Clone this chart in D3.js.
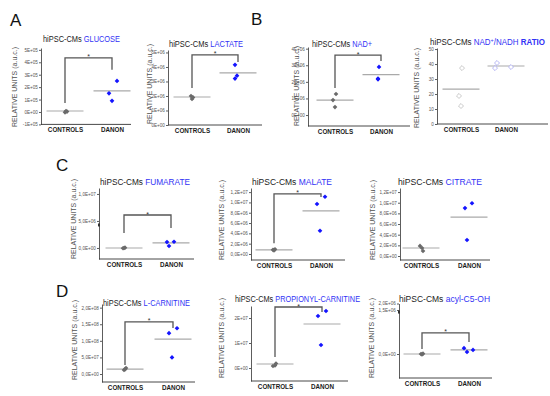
<!DOCTYPE html>
<html lang="en">
<head>
<meta charset="UTF-8">
<title>hiPSC-CMs metabolites</title>
<script src="https://d3js.org/d3.v7.min.js"></script>
<style>
  body { margin: 0; background: #fff; }
  svg { display: block; font-family: "Liberation Sans", Arial, sans-serif; }
  .yaxis text { font-size: 4.6px; fill: #555; font-family: "Liberation Sans", Arial, sans-serif; }
  .yaxis line, .yaxis path { stroke: #333; stroke-width: 0.8; }
  .xaxis text { font-size: 6.3px; font-weight: bold; fill: #1a1a1a; font-family: "Liberation Sans", Arial, sans-serif; }
  .ylab { font-size: 7px; fill: #505050; }
  .title { fill: #222; }
  .blue { fill: #3232f5; }
  .letter { font-size: 17px; fill: #111; }
  .star { font-size: 7px; fill: #333; }
</style>
</head>
<body>
<div id="chart"></div>
<script>
// categories
var categories = ["CONTROLS", "DANON"];

// A - glucose
var glucoseControls = [-0.03e5, 0.03e5, 0.08e5];
var glucoseDanon = [2.5e5, 1.5e5, 0.9e5];
var glucoseMeans = [0.08e5, 1.7e5];
var glucoseTicks = [-1e5, 0, 1e5, 2e5, 3e5, 4e5, 5e5];
var glucoseTickLabels = ["-1E+05", "0E+00", "1E+05", "2E+05", "3E+05", "4E+05", "5E+05"];

// A - lactate
var lactateControls = [2.0e6, 1.9e6, 1.8e6];
var lactateDanon = [4.15e6, 3.4e6, 3.2e6];
var lactateMeans = [1.93e6, 3.6e6];
var lactateTicks = [0, 1e6, 2e6, 3e6, 4e6, 5e6];
var lactateTickLabels = ["0E+00", "1E+06", "2E+06", "3E+06", "4E+06", "5E+06"];

// B - NAD+
var nadControls = [1.27e6, 0.9e6, 0.48e6];
var nadDanon = [2.9e6, 2.2e6, 2.15e6];
var nadMeans = [0.9e6, 2.43e6];
var nadTicks = [0, 1e6, 2e6, 3e6, 4e6];
var nadTickLabels = ["0E+00", "1E+06", "2E+06", "3E+06", "4E+06"];

// B - NAD+/NADH ratio
var ratioControls = [37.3, 18.7, 12];
var ratioDanon = [37.3, 40.7, 38];
var ratioMeans = [23.3, 38.7];
var ratioTicks = [0, 10, 20, 30, 40, 50];
var ratioTickLabels = ["0", "10", "20", "30", "40", "50"];

// C - fumarate
var fumarateControls = [0, 0.05e6, -0.05e6];
var fumarateDanon = [1.1e6, 0.37e6, 1.15e6];
var fumarateMeans = [0, 0.93e6];
var fumarateTicks = [0, 5e6, 1e7];
var fumarateTickLabels = ["0,0E+00", "5,0E+06", "1,0E+07"];

// C - malate
var malateControls = [0.8e6, 0.9e6, 0.7e6];
var malateDanon = [11.1e6, 9.7e6, 4.5e6];
var malateMeans = [0.8e6, 8.35e6];
var malateTicks = [0, 2e6, 4e6, 6e6, 8e6, 1e7, 1.2e7];
var malateTickLabels = ["0,0E+00", "2,0E+06", "4,0E+06", "6,0E+06", "8,0E+06", "1,0E+07", "1,2E+07"];

// C - citrate
var citrateControls = [1.9e6, 1.5e6, 0.94e6];
var citrateDanon = [9.9e6, 9.0e6, 3.0e6];
var citrateMeans = [1.5e6, 7.3e6];
var citrateTicks = [0, 2e6, 4e6, 6e6, 8e6, 1e7, 1.2e7];
var citrateTickLabels = ["0,0E+00", "2,0E+06", "4,0E+06", "6,0E+06", "8,0E+06", "1,0E+07", "1,2E+07"];

// D - L-carnitine
var lcarnControls = [1.8e7, 1.2e7, 1.4e7];
var lcarnDanon = [1.38e8, 1.23e8, 0.5e8];
var lcarnMeans = [1.5e7, 1.05e8];
var lcarnTicks = [0, 5e7, 1e8, 1.5e8, 2e8];
var lcarnTickLabels = ["0,0E+00", "5,0E+07", "1,0E+08", "1,5E+08", "2,0E+08"];

// D - propionyl-carnitine
var propControls = [0.18e7, 0.1e7, 0.08e7];
var propDanon = [2.28e7, 2.08e7, 0.92e7];
var propMeans = [0.16e7, 1.76e7];
var propTicks = [0, 1e7, 2e7];
var propTickLabels = ["0E+00", "1E+07", "2E+07"];

// D - acyl-C5-OH
var acylControls = [0, 0.01e6, -0.01e6];
var acylDanon = [0.2e6, 0.07e6, 0.14e6];
var acylMeans = [0, 0.14e6];
var acylTicks = [0, 1.5e6, 2e6];
var acylTickLabels = ["0,0E+00", "1,5E+06", "2,0E+06"];

// significance brackets: [start, top, end] in data units
var glucoseBracket = [0.73e5, 4.35e5, 3.39e5];
var lactateBracket = [2.55e6, 4.83e6, 4.34e6];
var nadBracket = [1.63e6, 3.61e6, 3.25e6];
var fumarateBracket = [2.78e6, 6.1e6, 3.7e6];
var malateBracket = [2.1e6, 11.65e6, 11.07e6];
var lcarnBracket = [2.7e7, 1.57e8, 1.39e8];
var propBracket = [0.44e7, 2.44e7, 2.24e7];
var acylBracket = [0.17e6, 0.72e6, 0.41e6];

var panels = [
    {title: [["GLUCOSE"]], controls: glucoseControls, danon: glucoseDanon, means: glucoseMeans,
     ticks: glucoseTicks, labels: glucoseTickLabels, bracket: glucoseBracket,
     lay: {ax: 41, axEnd: 131, cx: [65, 112], domain: [-1e5, 5.15e5], range: [124.4, 48],
           tx: 43, ty: 41.5, tw: 77, lx: 15, ly: 87, jc: [0, 2, 1], jd: [5, -3, 0]}},
    {title: [["LACTATE"]], controls: lactateControls, danon: lactateDanon, means: lactateMeans,
     ticks: lactateTicks, labels: lactateTickLabels, bracket: lactateBracket,
     lay: {ax: 168, axEnd: 262, cx: [192, 238], domain: [0, 5.17e6], range: [125, 50],
           tx: 169, ty: 46.5, tw: 74, lx: 150, ly: 84, jc: [-1, 1, 0], jd: [-3, -1, -3]}},
    {title: [["NAD+"]], controls: nadControls, danon: nadDanon, means: nadMeans,
     ticks: nadTicks, labels: nadTickLabels, bracket: nadBracket,
     lay: {ax: 308, axEnd: 410, cx: [335, 381], domain: [-0.66e6, 4.1e6], range: [126, 47],
           tx: 312, ty: 46.5, tw: 60, lx: 297, ly: 86, jc: [1, -2, 0], jd: [-2, -3, -3]}},
    {title: [["NAD"], ["+", "sup"], ["/NADH "], ["RATIO", "bold"]], controls: ratioControls, danon: ratioDanon, means: ratioMeans,
     ticks: ratioTicks, labels: ratioTickLabels, bracket: null, open: true,
     lay: {ax: 437, axEnd: 548, cx: [461, 506], domain: [0, 50.7], range: [124, 48],
           tx: 430, ty: 45, tw: 115, lx: 417, ly: 88, jc: [1, -2, 0], jd: [-11, -9, 5]}},
    {title: [["FUMARATE"]], controls: fumarateControls, danon: fumarateDanon, means: fumarateMeans,
     ticks: fumarateTicks, labels: fumarateTickLabels, bracket: fumarateBracket, mark: 4.26e6,
     lay: {ax: 99, axEnd: 194, cx: [124, 171], domain: [-2.04e6, 11.1e6], range: [259, 188],
           tx: 100, ty: 185, tw: 90, lx: 74, ly: 219, jc: [0, 1, -1], jd: [-4, -2, 3]}},
    {title: [["MALATE"]], controls: malateControls, danon: malateDanon, means: malateMeans,
     ticks: malateTicks, labels: malateTickLabels, bracket: malateBracket,
     lay: {ax: 251, axEnd: 345, cx: [274, 321], domain: [-1.17e6, 12.8e6], range: [260, 188],
           tx: 252, ty: 184.5, tw: 80, lx: 222, ly: 220, jc: [-1, 1, 0], jd: [4, -4, -1]}},
    {title: [["CITRATE"]], controls: citrateControls, danon: citrateDanon, means: citrateMeans,
     ticks: citrateTicks, labels: citrateTickLabels, bracket: null,
     lay: {ax: 400, axEnd: 490, cx: [421, 469], domain: [-0.75e6, 12.76e6], range: [260, 188],
           tx: 398, ty: 184.5, tw: 84, lx: 373, ly: 220, jc: [-1, 1, 2], jd: [3, -4, -2]}},
    {title: [["L-CARNITINE"]], controls: lcarnControls, danon: lcarnDanon, means: lcarnMeans,
     ticks: lcarnTicks, labels: lcarnTickLabels, bracket: lcarnBracket,
     lay: {ax: 102, axEnd: 195, cx: [125, 173], domain: [-2.41e7, 2.11e8], range: [382, 304],
           tx: 103, ty: 306, tw: 87, lx: 75, ly: 340, jc: [1, -1, 0], jd: [4, -4, -1]}},
    {title: [["PROPIONYL-CARNITINE"]], controls: propControls, danon: propDanon, means: propMeans,
     ticks: propTicks, labels: propTickLabels, bracket: propBracket,
     lay: {ax: 251, axEnd: 348, cx: [275, 322], domain: [-0.52e7, 2.48e7], range: [381, 306],
           tx: 235, ty: 301.5, tw: 125, lx: 222, ly: 338, jc: [1, 0, -2], jd: [4, -4, -1]}},
    {title: [["acyl-C5-OH"]], controls: acylControls, danon: acylDanon, means: acylMeans,
     ticks: acylTicks, labels: acylTickLabels, bracket: acylBracket, mark: 1.43e6,
     lay: {ax: 399, axEnd: 492, cx: [422, 469], domain: [-0.55e6, 0, 1.5e6, 2e6], range: [378, 354, 310, 303.5],
           tx: 399, ty: 302, tw: 91, lx: 372, ly: 338, jc: [-1, 1, 0], jd: [-5, -2, 4]}}
];

var letters = [["A", 10, 26], ["B", 251, 25], ["C", 56, 171], ["D", 56, 297]];

var svg = d3.select("#chart").append("svg")
    .attr("width", 550)
    .attr("height", 396);

svg.selectAll(".letter").data(letters).join("text")
    .attr("class", "letter")
    .attr("x", d => d[1]).attr("y", d => d[2])
    .text(d => d[0]);

var diamond = d3.symbol().type(d3.symbolDiamond2 || d3.symbolDiamond).size(14)();
var openDiamond = d3.symbol().type(d3.symbolDiamond2 || d3.symbolDiamond).size(16)();

panels.forEach(function(p) {
    var L = p.lay;
    var g = svg.append("g");
    var y = d3.scaleLinear().domain(L.domain).range(L.range);
    var x = d3.scalePoint().domain(categories).range(L.cx);
    var yBot = L.range[0];

    // y axis
    g.append("g").attr("class", "yaxis")
        .attr("transform", "translate(" + L.ax + ",0)")
        .call(d3.axisLeft(y).tickValues(p.ticks).tickFormat((d, i) => p.labels[i])
            .tickSize(2).tickSizeOuter(0).tickPadding(1.2));

    // x axis
    g.append("line")
        .attr("x1", L.ax).attr("x2", L.axEnd)
        .attr("y1", yBot).attr("y2", yBot)
        .attr("stroke", "#333").attr("stroke-width", 0.9);
    var xa = g.append("g").attr("class", "xaxis")
        .attr("transform", "translate(0," + yBot + ")")
        .call(d3.axisBottom(x).tickSize(0).tickPadding(3.6));
    xa.select(".domain").remove();

    // y label
    g.append("text").attr("class", "ylab")
        .attr("transform", "translate(" + L.lx + "," + L.ly + ") rotate(-90)")
        .attr("text-anchor", "middle")
        .attr("dy", "0.35em")
        .text("RELATIVE UNITS (a.u.c.)");

    // title, squeezed horizontally to the measured width (narrow face)
    var fs = 9.2;
    var t = g.append("text").attr("class", "title")
        .attr("transform", "translate(" + L.tx + "," + L.ty + ")")
        .style("font-size", fs + "px");
    t.append("tspan").text("hiPSC-CMs ");
    var afterSup = false;
    p.title.forEach(function(part) {
        var s = t.append("tspan").attr("class", "blue").text(part[0]);
        if (part[1] === "sup") s.attr("dy", -3.2).style("font-size", (fs * 0.68) + "px");
        else if (afterSup) s.attr("dy", 3.2);
        if (part[1] === "bold") s.style("font-weight", "bold");
        afterSup = part[1] === "sup";
    });
    var w = t.node().getComputedTextLength();
    if (w > 0) {
        t.attr("transform", "translate(" + L.tx + "," + L.ty + ") scale(" + (L.tw / w) + ",1)");
    }

    // mean lines
    g.selectAll(".mean").data(p.means).join("line")
        .attr("class", "mean")
        .attr("x1", (d, i) => x(categories[i]) - 18.5)
        .attr("x2", (d, i) => x(categories[i]) + 18.5)
        .attr("y1", d => y(d)).attr("y2", d => y(d))
        .attr("stroke", "#aaa").attr("stroke-width", 1.2);

    // bracket
    if (p.bracket) {
        var x1 = x("CONTROLS"), x2 = x("DANON");
        g.append("path")
            .attr("d", "M" + x1 + "," + y(p.bracket[0]) + "V" + y(p.bracket[1]) +
                "H" + x2 + "V" + y(p.bracket[2]))
            .attr("fill", "none").attr("stroke", "#555").attr("stroke-width", 1.3);
        g.append("text").attr("class", "star")
            .attr("x", (x1 + x2) / 2).attr("y", y(p.bracket[1]) + 1.5)
            .attr("text-anchor", "middle").text("*");
    }

    // axis mark
    if (p.mark !== undefined) {
        g.append("rect")
            .attr("x", L.ax - 1).attr("y", y(p.mark) - 1.5)
            .attr("width", 2).attr("height", 3).attr("fill", "#333");
    }

    // points
    g.selectAll(".pc").data(p.controls).join("path")
        .attr("class", "pc")
        .attr("d", p.open ? openDiamond : diamond)
        .attr("transform", (d, i) => "translate(" + (x("CONTROLS") + L.jc[i]) + "," + y(d) + ")")
        .attr("fill", p.open ? "#fff" : "#6a6a6a")
        .attr("stroke", p.open ? "#bbb" : "none")
        .attr("stroke-width", 0.8);
    g.selectAll(".pd").data(p.danon).join("path")
        .attr("class", "pd")
        .attr("d", p.open ? openDiamond : diamond)
        .attr("transform", (d, i) => "translate(" + (x("DANON") + L.jd[i]) + "," + y(d) + ")")
        .attr("fill", p.open ? "#fff" : "#1414ff")
        .attr("stroke", p.open ? "#a3a3f0" : "none")
        .attr("stroke-width", 0.8);
});
</script>
</body>
</html>
